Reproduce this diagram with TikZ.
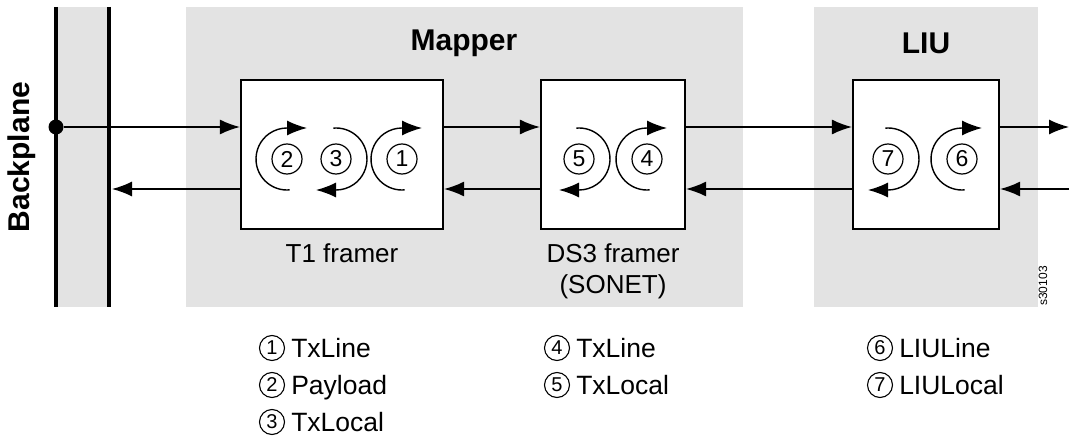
\documentclass[tikz,border=0pt]{standalone}
\usepackage{fontspec}
\setmainfont{Liberation Sans}
\usetikzlibrary{arrows.meta}
\begin{document}
\begin{tikzpicture}[x=1pt,y=1pt,
  every node/.style={inner sep=0pt},
  framebox/.style={draw, line width=2.2pt, fill=white, minimum height=149pt},
  conn/.style={line width=1.4pt, -{Latex[length=20pt,width=15pt]}},
  loopar/.style={line width=1.4pt, -{Latex[length=20pt,width=15pt]}},
  cnum/.style={circle, draw, line width=1.2pt, minimum size=30pt, font=\fontsize{23}{23}\selectfont},
  lnum/.style={circle, draw, line width=1.1pt, minimum size=25pt, font=\fontsize{20}{20}\selectfont},
  lab/.style={font=\fontsize{26}{31}\selectfont, align=center},
  leg/.style={font=\fontsize{26.5}{26.5}\selectfont},
  ttl/.style={font=\bfseries\fontsize{30}{31}\selectfont},
  bpline/.style={line width=4.5pt}
]
\useasboundingbox (0,0) rectangle (1071,440);
% panels
\fill[black!11] (57,433) rectangle (109,133);
\fill[black!11] (186,433) rectangle (743,133);
\fill[black!11] (814,433) rectangle (1038,133);
% backplane lines
\coordinate (bpLt) at (56,433);
\coordinate (bpLb) at (56,133);
\coordinate (bpRt) at (109,433);
\coordinate (bpRb) at (109,133);
\draw[bpline] (bpLt) -- (bpLb);
\draw[bpline] (bpRt) -- (bpRb);
\node[ttl, rotate=90] (bptitle) at (22,283) {Backplane};
% titles
\node[ttl] (mtitle) at (464,397) {Mapper};
\node[ttl] (ltitle) at (926,397) {LIU};
% boxes
\node[framebox, minimum width=202pt] (t1) at (342,285.5) {};
\node[framebox, minimum width=144pt] (ds3) at (613,285.5) {};
\node[framebox, minimum width=146pt] (liu) at (926,285.5) {};
\node[lab] (t1lab) at (342,187) {T1 framer};
\node[lab] (ds3lab) at (613,169) {DS3 framer\\(SONET)};
\node[font=\fontsize{12}{12}\selectfont, rotate=90] (code) at (1043,154) {s30103};
% connectors
\node[circle, fill, minimum size=15pt] (dot) at (56,313) {};
\coordinate (bpR) at (112,251);
\coordinate (outA) at (1069,313);
\coordinate (inB) at (1069,251);
\draw[conn] (dot) -- (t1.west |- dot);
\draw[conn] (t1.west |- bpR) -- (bpR);
\draw[conn] (t1.east |- dot) -- (ds3.west |- dot);
\draw[conn] (ds3.west |- bpR) -- (t1.east |- bpR);
\draw[conn] (ds3.east |- dot) -- (liu.west |- dot);
\draw[conn] (liu.west |- bpR) -- (ds3.east |- bpR);
\draw[conn] (liu.east |- outA) -- (outA);
\draw[conn] (inB) -- (liu.east |- inB);
% circled numbers in boxes
\node[cnum] (c2) at (287,281) {2};
\node[cnum] (c3) at (336,281) {3};
\node[cnum] (c1) at (402,281) {1};
\node[cnum] (c5) at (579,281) {5};
\node[cnum] (c4) at (647,281) {4};
\node[cnum] (c7) at (888,281) {7};
\node[cnum] (c6) at (962,281) {6};
% loops
\foreach \c in {c2,c1,c4,c6}{
  \draw[loopar] ([shift={(275:31)}]\c.center) arc[start angle=275, end angle=90, radius=31] -- ++(20,0);
}
\foreach \c in {c3,c5,c7}{
  \draw[loopar] ([shift={(95:31)}]\c.center) arc[start angle=95, end angle=-90, radius=31] -- ++(-20,0);
}
% legend
\node[lnum] (l1) at (272,92) {1};
\node[lnum] (l2) at (272,55) {2};
\node[lnum] (l3) at (272,18) {3};
\node[lnum] (l4) at (557,92) {4};
\node[lnum] (l5) at (557,55) {5};
\node[lnum] (l6) at (880,92) {6};
\node[lnum] (l7) at (880,55) {7};
\node[leg, anchor=base west] (t1l) at ([shift={(6,-9.5)}]l1.east) {TxLine};
\node[leg, anchor=base west] (t2l) at ([shift={(6,-9.5)}]l2.east) {Payload};
\node[leg, anchor=base west] (t3l) at ([shift={(6,-9.5)}]l3.east) {TxLocal};
\node[leg, anchor=base west] (t4l) at ([shift={(6,-9.5)}]l4.east) {TxLine};
\node[leg, anchor=base west] (t5l) at ([shift={(6,-9.5)}]l5.east) {TxLocal};
\node[leg, anchor=base west] (t6l) at ([shift={(6,-9.5)}]l6.east) {LIULine};
\node[leg, anchor=base west] (t7l) at ([shift={(6,-9.5)}]l7.east) {LIULocal};
\end{tikzpicture}
\end{document}
